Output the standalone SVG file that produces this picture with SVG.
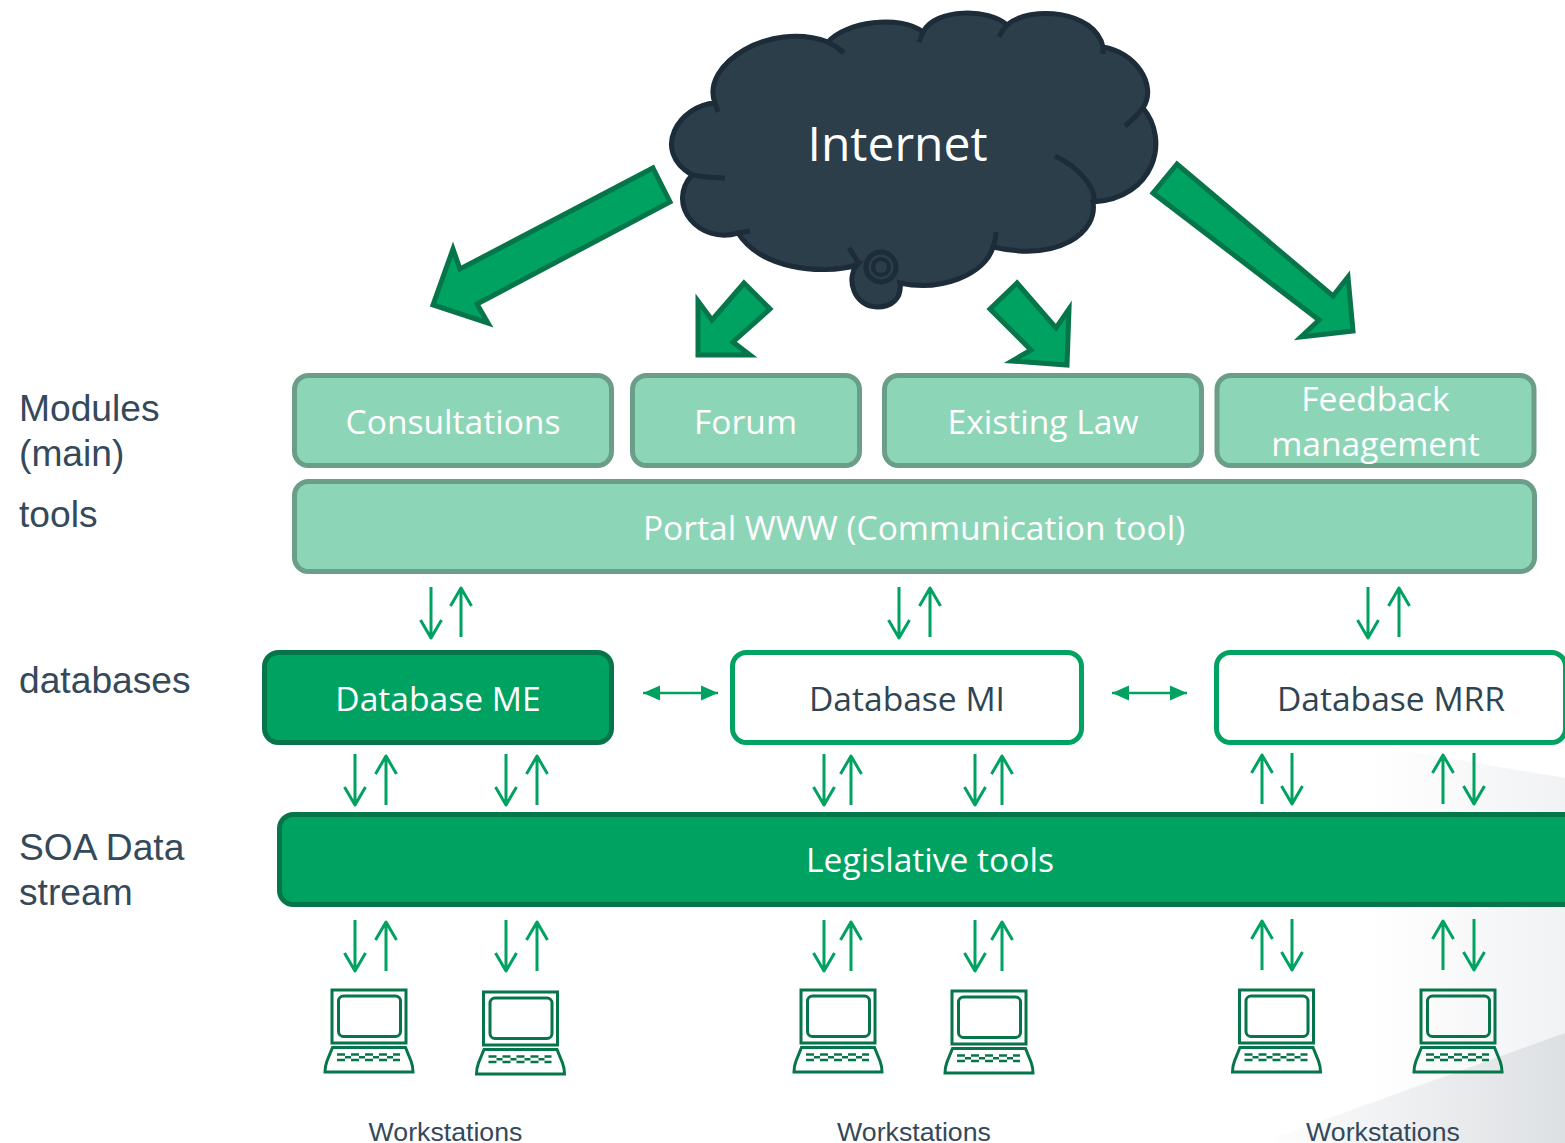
<svg xmlns="http://www.w3.org/2000/svg" width="1565" height="1143" viewBox="0 0 1565 1143">
<style>
.box{stroke-width:5}
.lt{fill:#8dd5b7;stroke:#6a9e89}
.dk{fill:#00a261;stroke:#06754a}
.wh{fill:#fff;stroke:#00a261}
.t{font-family:"Open Sans","Noto Sans",sans-serif;font-size:33.600px;text-anchor:middle}
.w{fill:#fff}
.g{fill:#2f4552}
.l{font-family:"Liberation Sans",Arial,sans-serif;font-size:37.200px;fill:#34495a}
.ws{font-family:"Liberation Sans",Arial,sans-serif;font-size:26.700px;fill:#34495a;text-anchor:middle}
.big{fill:#00a261;stroke:#06754a;stroke-width:5;stroke-linejoin:miter}
.thin{fill:none;stroke:#00a261;stroke-width:3;stroke-linejoin:round}
.pc{fill:none;stroke:#06754a;stroke-width:3}
</style>
<defs>
<linearGradient id="bg1" x1="0" y1="0" x2="1" y2="0"><stop offset="0" stop-color="#fff"/><stop offset=".5" stop-color="#eeeff1"/><stop offset="1" stop-color="#dde0e3"/></linearGradient>
<linearGradient id="bg2" x1="0" y1="0" x2="1" y2="0"><stop offset="0" stop-color="#fff"/><stop offset="1" stop-color="#f1f2f4"/></linearGradient>
<g id="dn"><path class="thin" d="M0 0V51M-10.500 33L0 51L10.500 33"/></g>
<g id="up"><path class="thin" d="M0 50V1M-10.500 19L0 1L10.500 19"/></g>
<g id="hz"><path d="M0 0H75" stroke="#00a261" stroke-width="2.500"/><path d="M0 0L17 -7.500V7.500Z M75 0L58 -7.500V7.500Z" fill="#00a261"/></g>
<g id="pc" class="pc">
<rect x="8" y="1" width="74" height="53"/>
<rect x="14.500" y="7" width="62" height="40.500" rx="5"/>
<path d="M8.500 58.500H81.500L87 72C88.500 76 89 79 89 83H1C1 79 1.500 76 3 72Z"/>
<path d="M13 65.500H76M13 71H76" stroke-width="2.400" stroke-dasharray="8 6"/>
<path d="M21 68.300H76" stroke-width="2.400" stroke-dasharray="6 8"/>
</g>
</defs>
<rect width="1565" height="1143" fill="#fff"/>
<polygon points="1370,745 1565,778 1565,1143 1370,1143" fill="url(#bg2)"/>
<polygon points="1260,1143 1565,1033 1565,1143" fill="url(#bg1)"/>

<g id="cloud">
<path fill="#2b3e49" stroke="#1c2c38" stroke-width="5" d="M828 42C845 22 900 14 923 32C935 8 990 8 1007 25C1030 5 1095 10 1103 47C1135 52 1158 85 1143 108C1170 140 1155 198 1093 202C1098 232 1060 262 993 247C985 275 940 292 900 283C902 298 892 307 877 307C855 307 845 280 857 265C820 276 760 268 738 233C700 245 665 205 692 175C650 150 680 105 715 103C700 65 770 20 828 42Z"/>
<path fill="none" stroke="#1c2c38" stroke-width="5" d="M828 42Q836 46 844 53M923 32Q921 38 919 42M1007 25Q1002 30 999 37M1103 47L1103 54M1143 108Q1135 118 1125 126M1055 156C1085 170 1098 195 1093 202M993 247Q996 240 996 232M738 233Q744 232 750 231M849 248L860 265M692 175Q710 178 725 178M715 103L718 112"/>
<circle cx="881" cy="267" r="15" fill="#2b3e49" stroke="#1c2c38" stroke-width="5"/>
<circle cx="881" cy="267" r="8" fill="none" stroke="#1c2c38" stroke-width="4"/>
<text x="897.500" y="161" font-family="Open Sans,Noto Sans,sans-serif" font-size="48" text-anchor="middle" fill="#fff">Internet</text>
</g>

<g id="connectors">
<polygon class="big" points="653,168 670,202 477,304 488,323 433,305 453,249 460,269"/>
<polygon class="big" points="744,283 770,309 733,342 750,355 698,355 698,301 712,320"/>
<polygon class="big" points="1017,283 990,309 1031,350 1012,361 1067,365 1069,309 1056,328"/>
<polygon class="big" points="1177,164 1153,193 1319,320 1301,337 1353,331 1348,277 1333,296"/>
<use href="#dn" x="431" y="587"/><use href="#up" x="461" y="587"/>
<use href="#dn" x="899" y="587"/><use href="#up" x="930" y="587"/>
<use href="#dn" x="1368" y="587"/><use href="#up" x="1399" y="587"/>
<use href="#hz" x="643" y="693"/><use href="#hz" x="1112" y="693"/>
<use href="#dn" x="355" y="754"/><use href="#up" x="386" y="755"/>
<use href="#dn" x="506" y="754"/><use href="#up" x="537" y="755"/>
<use href="#dn" x="824" y="754"/><use href="#up" x="851" y="755"/>
<use href="#dn" x="975" y="754"/><use href="#up" x="1002" y="755"/>
<use href="#up" x="1262" y="754"/><use href="#dn" x="1292" y="753"/>
<use href="#up" x="1443" y="754"/><use href="#dn" x="1474" y="753"/>
<use href="#dn" x="355" y="920"/><use href="#up" x="386" y="921"/>
<use href="#dn" x="506" y="920"/><use href="#up" x="537" y="921"/>
<use href="#dn" x="824" y="920"/><use href="#up" x="851" y="921"/>
<use href="#dn" x="975" y="920"/><use href="#up" x="1002" y="921"/>
<use href="#up" x="1262" y="920"/><use href="#dn" x="1292" y="919"/>
<use href="#up" x="1443" y="920"/><use href="#dn" x="1474" y="919"/>
</g>

<g id="n-consultations"><rect class="box lt" x="294.500" y="375.500" width="317" height="90" rx="14"/><text class="t w" x="453" y="434">Consultations</text></g>
<g id="n-forum"><rect class="box lt" x="632.500" y="375.500" width="227" height="90" rx="14"/><text class="t w" x="745.500" y="434">Forum</text></g>
<g id="n-existing"><rect class="box lt" x="884.500" y="375.500" width="317" height="90" rx="14"/><text class="t w" x="1043" y="434">Existing Law</text></g>
<g id="n-feedback"><rect class="box lt" x="1217" y="375.500" width="317" height="90" rx="14"/><text class="t w" x="1375.500" y="411">Feedback</text><text class="t w" x="1375.500" y="456">management</text></g>
<g id="n-portal"><rect class="box lt" x="294.500" y="481.500" width="1240" height="90" rx="14"/><text class="t w" x="914" y="540">Portal WWW (Communication tool)</text></g>
<g id="n-db-me"><rect class="box dk" x="264.500" y="652.500" width="347" height="90" rx="14"/><text class="t w" x="438" y="711">Database ME</text></g>
<g id="n-db-mi"><rect class="box wh" x="732.500" y="652.500" width="349" height="90" rx="14"/><text class="t g" x="907" y="711">Database MI</text></g>
<g id="n-db-mrr"><rect class="box wh" x="1216.500" y="652.500" width="349" height="90" rx="14"/><text class="t g" x="1391" y="711">Database MRR</text></g>
<g id="n-legislative"><rect class="box dk" x="279.500" y="814.500" width="1340" height="90" rx="14"/><text class="t w" x="930" y="872">Legislative tools</text></g>

<g id="n-labels">
<text class="l" x="19" y="421">Modules</text>
<text class="l" x="19" y="466">(main)</text>
<text class="l" x="19" y="527">tools</text>
<text class="l" x="19" y="693">databases</text>
<text class="l" x="19" y="860">SOA Data</text>
<text class="l" x="19" y="905">stream</text>
</g>

<g id="n-workstations">
<use href="#pc" x="324" y="989"/><use href="#pc" x="475.500" y="991"/>
<use href="#pc" x="793" y="989"/><use href="#pc" x="944" y="990"/>
<use href="#pc" x="1231.500" y="989"/><use href="#pc" x="1413" y="989"/>
<text class="ws" x="445.500" y="1141">Workstations</text>
<text class="ws" x="914" y="1141">Workstations</text>
<text class="ws" x="1383" y="1141">Workstations</text>
</g>
</svg>
